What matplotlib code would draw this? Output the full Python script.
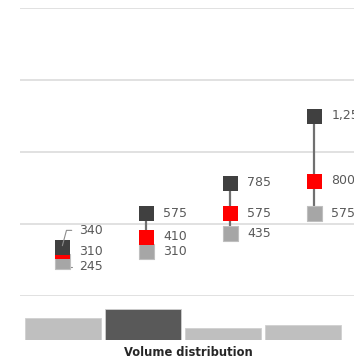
import numpy as np
import matplotlib
matplotlib.use("Agg")
import matplotlib.pyplot as plt

# price points per segment: high / mid / low, plus share of volume
segments = ["S1", "S2", "S3", "S4"]
high = [340, 575, 785, 1250]
mid = [310, 410, 575, 800]
low = [245, 310, 435, 575]
volume = [27, 39, 15, 19]

DARK = "#404040"
RED = "#ff0000"
LIGHT = "#a6a6a6"
TXT = "#595959"
GRID = "#dcdcdc"

plt.rcParams["font.family"] = "DejaVu Sans"

fig = plt.figure(figsize=(3.54, 3.58), dpi=100)
W, H = 354, 358

# main range chart
ax = fig.add_axes([20 / W, (H - 296) / H, 336 / W, 288 / H])
x = np.arange(len(segments))
ax.set_xlim(-0.5, len(segments) - 0.5)
ax.set_ylim(0, 2000)
ax.set_yticks([0, 500, 1000, 1500, 2000])
ax.grid(axis="y", color=GRID, lw=1.2)
ax.set_axisbelow(True)
ax.tick_params(left=False, bottom=False, labelleft=False, labelbottom=False)
for s in ax.spines.values():
    s.set_visible(False)

ax.vlines(x, low, high, color="#707070", lw=1.6, zorder=2)
ms = 10.8
ax.plot(x, low, "s", ms=ms, color=LIGHT, mec="#bfbfbf", mew=0.8, zorder=3, clip_on=False)
ax.plot(x, mid, "s", ms=ms, color=RED, mec=RED, mew=0, zorder=4, clip_on=False)
ax.plot(x, high, "s", ms=ms, color=DARK, mec=DARK, mew=0, zorder=5, clip_on=False)

fs = 9
dx = 12.5  # points to the right of the marker centre
for i in range(len(segments)):
    if i == 0:
        # values too close together: push labels apart with leader lines
        ax.annotate(f"{high[i]:,}", xy=(x[i], high[i]), xytext=(dx, 12),
                    textcoords="offset points", ha="left", va="center",
                    fontsize=fs, color=TXT, zorder=6,
                    arrowprops=dict(arrowstyle="-", color="#8c8c8c", lw=0.8,
                                    relpos=(0, 0.5), shrinkA=3.5, shrinkB=1,
                                    connectionstyle="angle,angleA=0,angleB=75,rad=0"))
        ax.annotate(f"{mid[i]:,}", xy=(x[i], mid[i]), xytext=(dx, 0),
                    textcoords="offset points", ha="left", va="center",
                    fontsize=fs, color=TXT)
        ax.annotate(f"{low[i]:,}", xy=(x[i], low[i]), xytext=(dx, -4.5),
                    textcoords="offset points", ha="left", va="center",
                    fontsize=fs, color=TXT, zorder=2,
                    arrowprops=dict(arrowstyle="-", color="#8c8c8c", lw=0.8,
                                    relpos=(0, 0.5), shrinkA=3.5, shrinkB=0,
                                    connectionstyle="angle,angleA=0,angleB=90,rad=0"))
    else:
        for v in (high[i], mid[i], low[i]):
            ax.annotate(f"{v:,}", xy=(x[i], v), xytext=(dx, 0),
                        textcoords="offset points", ha="left", va="center",
                        fontsize=fs, color=TXT, annotation_clip=False)

# volume distribution bars
bx = fig.add_axes([23 / W, (H - 339.5) / H, 320 / W, 35.2 / H])
bar_colors = ["#bfbfbf", "#595959", "#bfbfbf", "#bfbfbf"]
bx.bar(x, volume, width=0.95, color=bar_colors, edgecolor="#d0d0d0", linewidth=0.6)
bx.set_xlim(-0.5, len(segments) - 0.5)
bx.set_ylim(0, 45)
bx.axis("off")
fig.text(188 / W, 1 - 352 / H, "Volume distribution", ha="center", va="center",
         fontsize=8.3, fontweight="bold", color="#262626")

fig.savefig("out.png", dpi=100)
